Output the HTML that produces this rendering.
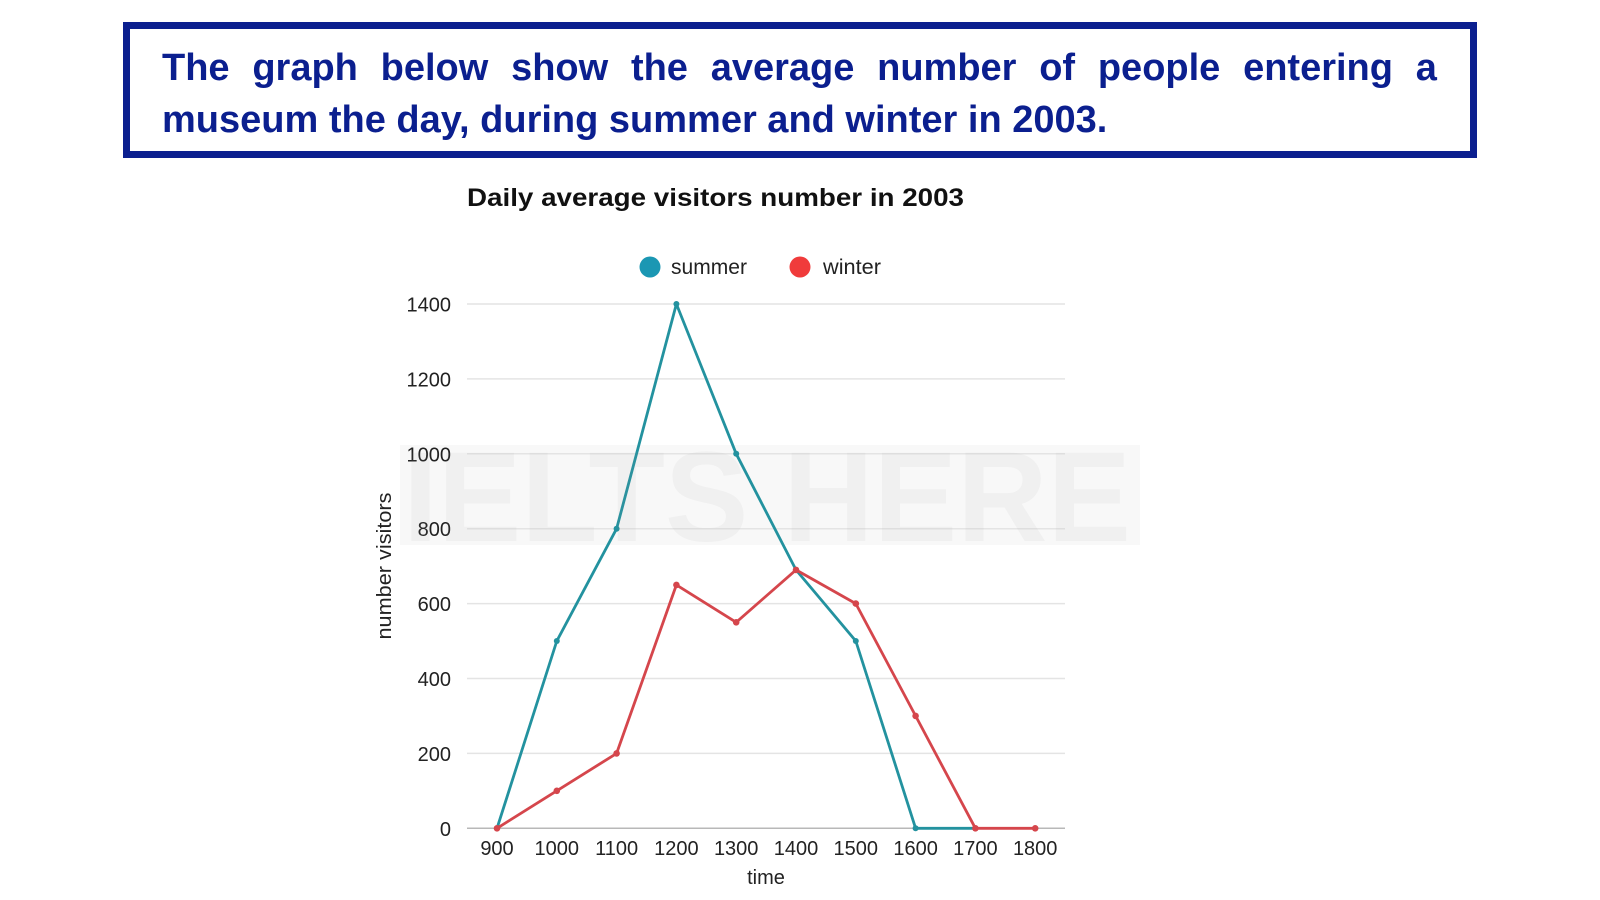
<!DOCTYPE html>
<html>
<head>
<meta charset="utf-8">
<style>
  html, body { margin: 0; padding: 0; background: #ffffff; }
  body { width: 1600px; height: 900px; position: relative; overflow: hidden; font-family: "Liberation Sans", Arial, sans-serif; }
  .box { position: absolute; left: 123px; top: 22px; width: 1340px; height: 122px; border: 7px solid #0b1f8f; }
  .line { position: absolute; left: 162px; width: 1275px; color: #0b1f8f; font-weight: bold; font-size: 38px; line-height: 53px; height: 53px; white-space: nowrap; }
  .l1 { top: 42px; display: flex; justify-content: space-between; }
  .l2 { top: 94px; }
  svg { position: absolute; left: 0; top: 0; }
</style>
</head>
<body>
<div class="box"></div>
<div class="line l1"><span>The</span><span>graph</span><span>below</span><span>show</span><span>the</span><span>average</span><span>number</span><span>of</span><span>people</span><span>entering</span><span>a</span></div>
<div class="line l2">museum the day, during summer and winter in 2003.</div>

<svg width="1600" height="900" viewBox="0 0 1600 900" xmlns="http://www.w3.org/2000/svg" font-family="Liberation Sans, Arial, sans-serif">
  <!-- watermark background -->
  <rect x="400" y="445" width="740" height="100" fill="#f8f8f8"/>

  <!-- title -->
  <text x="467" y="206" font-size="25" font-weight="bold" fill="#111" textLength="497" lengthAdjust="spacingAndGlyphs">Daily average visitors number in 2003</text>

  <!-- legend -->
  <circle cx="650" cy="267" r="10.5" fill="#1b97b3"/>
  <text x="671" y="274" font-size="21" fill="#222" textLength="76" lengthAdjust="spacingAndGlyphs">summer</text>
  <circle cx="800" cy="267" r="10.5" fill="#f03b3b"/>
  <text x="823" y="274" font-size="21" fill="#222" textLength="58" lengthAdjust="spacingAndGlyphs">winter</text>

  <!-- gridlines -->
  <g stroke="#e4e4e4" stroke-width="1.5">
    <line x1="467" x2="1065" y1="304" y2="304"/>
    <line x1="467" x2="1065" y1="378.9" y2="378.9"/>
    <line x1="467" x2="1065" y1="453.8" y2="453.8"/>
    <line x1="467" x2="1065" y1="528.7" y2="528.7"/>
    <line x1="467" x2="1065" y1="603.6" y2="603.6"/>
    <line x1="467" x2="1065" y1="678.5" y2="678.5"/>
    <line x1="467" x2="1065" y1="753.4" y2="753.4"/>
  </g>
  <line x1="467" x2="1065" y1="828.3" y2="828.3" stroke="#b8b8b8" stroke-width="1.5"/>

  <!-- y tick labels -->
  <g font-size="20" fill="#222" text-anchor="end">
    <text x="451" y="311.5">1400</text>
    <text x="451" y="386.4">1200</text>
    <text x="451" y="461.3">1000</text>
    <text x="451" y="536.2">800</text>
    <text x="451" y="611.1">600</text>
    <text x="451" y="686">400</text>
    <text x="451" y="760.9">200</text>
    <text x="451" y="835.8">0</text>
  </g>

  <!-- x tick labels -->
  <g font-size="20" fill="#222" text-anchor="middle">
    <text x="497" y="855">900</text>
    <text x="556.8" y="855">1000</text>
    <text x="616.6" y="855">1100</text>
    <text x="676.4" y="855">1200</text>
    <text x="736.2" y="855">1300</text>
    <text x="796" y="855">1400</text>
    <text x="855.8" y="855">1500</text>
    <text x="915.6" y="855">1600</text>
    <text x="975.4" y="855">1700</text>
    <text x="1035.2" y="855">1800</text>
  </g>

  <!-- axis titles -->
  <text x="766" y="884" font-size="20" fill="#222" text-anchor="middle">time</text>
  <text transform="translate(391,566) rotate(-90)" font-size="20" fill="#222" text-anchor="middle" textLength="147" lengthAdjust="spacingAndGlyphs">number visitors</text>

  <!-- summer series -->
  <polyline fill="none" stroke="#23929f" stroke-width="2.8" stroke-linejoin="round"
    points="497,828.3 556.8,641.0 616.6,528.7 676.4,304 736.2,453.8 796,569.9 855.8,641.0 915.6,828.3 975.4,828.3"/>
  <g fill="#23929f">
    <circle cx="497" cy="828.3" r="3"/>
    <circle cx="556.8" cy="641.0" r="3"/>
    <circle cx="616.6" cy="528.7" r="3"/>
    <circle cx="676.4" cy="304" r="3"/>
    <circle cx="736.2" cy="453.8" r="3"/>
    <circle cx="796" cy="569.9" r="3"/>
    <circle cx="855.8" cy="641.0" r="3"/>
    <circle cx="915.6" cy="828.3" r="3"/>
    <circle cx="975.4" cy="828.3" r="3"/>
  </g>

  <!-- winter series -->
  <polyline fill="none" stroke="#d5464c" stroke-width="2.8" stroke-linejoin="round"
    points="497,828.3 556.8,790.8 616.6,753.4 676.4,584.9 736.2,622.3 796,569.9 855.8,603.6 915.6,715.9 975.4,828.3 1035.2,828.3"/>
  <g fill="#d5464c">
    <circle cx="497" cy="828.3" r="3.3"/>
    <circle cx="556.8" cy="790.8" r="3.3"/>
    <circle cx="616.6" cy="753.4" r="3.3"/>
    <circle cx="676.4" cy="584.9" r="3.3"/>
    <circle cx="736.2" cy="622.3" r="3.3"/>
    <circle cx="796" cy="569.9" r="3.3"/>
    <circle cx="855.8" cy="603.6" r="3.3"/>
    <circle cx="915.6" cy="715.9" r="3.3"/>
    <circle cx="975.4" cy="828.3" r="3.3"/>
    <circle cx="1035.2" cy="828.3" r="3.3"/>
  </g>

  <!-- watermark text -->
  <text x="403" y="541" font-size="128" font-weight="bold" fill="#999" fill-opacity="0.08" textLength="728" lengthAdjust="spacingAndGlyphs">IELTS HERE</text>
</svg>
</body>
</html>
